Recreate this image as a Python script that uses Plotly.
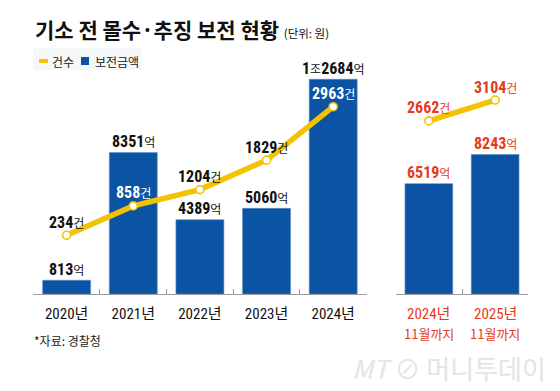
import plotly.graph_objects as go

# ---- data ----
years = ["2020년", "2021년", "2022년", "2023년", "2024년"]
amounts = [813, 8351, 4389, 5060, 12684]          # 억원
counts = [234, 858, 1204, 1829, 2963]             # 건
amount_labels = ["813", "8351", "4389", "5060", "1조2684"]

ytd_cats = ["2024년 11월까지", "2025년 11월까지"]
ytd_amounts = [6519, 8243]
ytd_counts = [2662, 3104]
ytd_amount_labels = ["6519", "8243"]

count_label_colors = ["#111111", "#ffffff", "#111111", "#111111", "#ffffff"]

BLUE = "#0b53a3"
YEL = "#f3c200"
RED = "#e63a22"
NUM_FONT = "Liberation Sans Narrow, Arial Narrow, Roboto Condensed, Noto Sans CJK KR"
KR_FONT = "Noto Sans CJK KR, Liberation Sans, sans-serif"

W, H = 560, 391
L0, L1 = 33.3, 366.7
R0, R1 = 395.7, 528.3
BASE = 294
ydom = [(H - BASE) / H, 1]
bar_max = BASE / 0.01693
y2_lo = -47.67 / 0.04712
y2_hi = (BASE - 47.67) / 0.04712

fig = go.Figure()

bar_marker = dict(color=BLUE, line=dict(color="#5d8fcf", width=0.6))
fig.add_trace(go.Bar(x=years, y=amounts, marker=bar_marker, width=0.72,
                     xaxis="x", yaxis="y", hoverinfo="skip"))
fig.add_trace(go.Bar(x=ytd_cats, y=ytd_amounts, marker=bar_marker, width=0.72,
                     xaxis="x2", yaxis="y", hoverinfo="skip"))

mk = dict(size=8, color="white", line=dict(color=YEL, width=1.6))
fig.add_trace(go.Scatter(x=years, y=counts, mode="lines+markers", line=dict(color=YEL, width=5.5),
                         marker=mk, xaxis="x", yaxis="y2", hoverinfo="skip"))
fig.add_trace(go.Scatter(x=ytd_cats, y=ytd_counts, mode="lines+markers", line=dict(color=YEL, width=5.5),
                         marker=mk, xaxis="x2", yaxis="y3", hoverinfo="skip"))

ann = []

def num_label(s, unit, usize=12):
    # bold digits, regular Korean units
    out = ""
    buf = ""
    for ch in s:
        if ch.isdigit():
            buf += ch
        else:
            if buf:
                out += f"<b>{buf}</b>"
                buf = ""
            out += f"<span style='font-size:{usize}px;font-family:{KR_FONT}'>{ch}</span>"
    if buf:
        out += f"<b>{buf}</b>"
    out += f"<span style='font-size:{usize}px;font-family:{KR_FONT}'>{unit}</span>"
    return out

for c, v, lab in zip(years, amounts, amount_labels):
    ann.append(dict(x=c, y=v, xref="x", yref="y", text=num_label(lab, "억"), showarrow=False,
                    yshift=11, font=dict(family=NUM_FONT, size=16, color="#111111")))
for c, v, lab in zip(ytd_cats, ytd_amounts, ytd_amount_labels):
    ann.append(dict(x=c, y=v, xref="x2", yref="y", text=num_label(lab, "억"), showarrow=False,
                    yshift=11, font=dict(family=NUM_FONT, size=16, color=RED)))
for c, v, col in zip(years, counts, count_label_colors):
    ann.append(dict(x=c, y=v, xref="x", yref="y2", text=num_label(str(v), "건"), showarrow=False,
                    yshift=13, font=dict(family=NUM_FONT, size=16, color=col)))
for c, v in zip(ytd_cats, ytd_counts):
    ann.append(dict(x=c, y=v, xref="x2", yref="y3", text=num_label(str(v), "건"), showarrow=False,
                    yshift=13, font=dict(family=NUM_FONT, size=16, color=RED)))

# two-line category labels for the year-to-date group
for c in ytd_cats:
    first, second = c.split(" ")
    ann.append(dict(x=c, xref="x2", y=1 - 314 / H, yref="paper", yanchor="middle", text=first,
                    showarrow=False, font=dict(family=NUM_FONT, size=15, color=RED)))
    ann.append(dict(x=c, xref="x2", y=1 - 333 / H, yref="paper", yanchor="middle", text=second,
                    showarrow=False, font=dict(family=KR_FONT, size=13, color=RED)))

# title & notes
ann.append(dict(x=33 / W, y=1 - 29 / H, xref="paper", yref="paper", xanchor="left", yanchor="middle",
                text="<b>기소 전 몰수·추징 보전 현황</b> <span style='font-size:11.5px'>(단위: 원)</span>",
                showarrow=False, font=dict(family=KR_FONT, size=21, color="#111111")))
ann.append(dict(x=50 / W, y=1 - 61 / H, xref="paper", yref="paper", xanchor="left", yanchor="middle",
                text="건수", showarrow=False, font=dict(family=KR_FONT, size=12, color="#222222")))
ann.append(dict(x=93 / W, y=1 - 61 / H, xref="paper", yref="paper", xanchor="left", yanchor="middle",
                text="보전금액", showarrow=False, font=dict(family=KR_FONT, size=12, color="#222222")))
ann.append(dict(x=32 / W, y=1 - 340 / H, xref="paper", yref="paper", xanchor="left", yanchor="middle",
                text="*자료: 경찰청", showarrow=False, font=dict(family=KR_FONT, size=12, color="#222222")))
ann.append(dict(x=548 / W, y=1 - 367 / H, xref="paper", yref="paper", xanchor="right", yanchor="middle",
                text="<i>MT</i> ⊘ 머니투데이", showarrow=False,
                font=dict(family=KR_FONT, size=26, color="#e4e4e4")))

shapes = [
    dict(type="rect", xref="paper", yref="paper", x0=33 / W, x1=142 / W, y0=1 - 70 / H, y1=1 - 48 / H,
         fillcolor="#f6f7f9", line=dict(width=0), layer="below"),
    dict(type="line", xref="paper", yref="paper", x0=39 / W, x1=48 / W, y0=1 - 61 / H, y1=1 - 61 / H,
         line=dict(color=YEL, width=4)),
    dict(type="rect", xref="paper", yref="paper", x0=81 / W, x1=89 / W, y0=1 - 65 / H, y1=1 - 57 / H,
         fillcolor=BLUE, line=dict(width=0)),
]

axis_common = dict(type="category", showline=True, linecolor="#9a9a9a", linewidth=1,
                   ticks="inside", tickson="boundaries", ticklen=5, tickcolor="#9a9a9a",
                   showgrid=False, zeroline=False, fixedrange=True)

fig.update_layout(
    width=W, height=H, margin=dict(l=0, r=0, t=0, b=0),
    paper_bgcolor="white", plot_bgcolor="rgba(0,0,0,0)",
    showlegend=False,
    xaxis=dict(domain=[L0 / W, L1 / W], anchor="y", ticklabelstandoff=6,
               tickfont=dict(family=NUM_FONT, size=15, color="#111111"), **axis_common),
    xaxis2=dict(domain=[R0 / W, R1 / W], anchor="y", showticklabels=False, **axis_common),
    yaxis=dict(domain=ydom, range=[0, bar_max], visible=False, fixedrange=True),
    yaxis2=dict(domain=ydom, range=[y2_lo, y2_hi], overlaying="y", anchor="x", visible=False, fixedrange=True),
    yaxis3=dict(domain=ydom, range=[y2_lo, y2_hi], overlaying="y", anchor="x2", visible=False, fixedrange=True),
    annotations=ann, shapes=shapes,
)

fig.write_html("out.html", config={"displayModeBar": False, "staticPlot": True},
               post_script="document.body.style.margin='0';document.body.style.padding='0';")
